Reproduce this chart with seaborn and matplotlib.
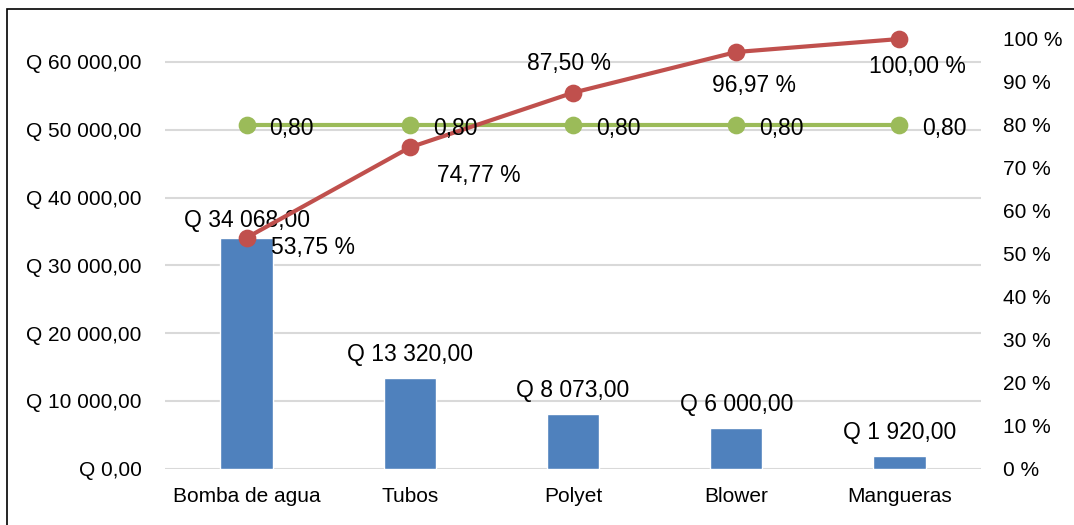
import matplotlib
matplotlib.use("Agg")
import matplotlib.pyplot as plt
from matplotlib.patches import Rectangle
import seaborn as sns
import numpy as np

# Pareto data
categories = ["Bomba de agua", "Tubos", "Polyet", "Blower", "Mangueras"]
amounts = [34068, 13320, 8073, 6000, 1920]
cumulative = [0.5375, 0.7477, 0.8750, 0.9697, 1.0]
threshold = [0.80, 0.80, 0.80, 0.80, 0.80]

BLUE = "#4F81BD"
RED = "#C0504D"
GREEN = "#9BBB59"
GRID = "#D9D9D9"


def money(v):
    s = f"{v:,.2f}".replace(",", " ").replace(".", ",")
    return f"Q {s}"


def pct(v):
    return f"{v * 100:.2f} %".replace(".", ",")


sns.set_theme(style="white")
plt.rcParams["font.family"] = ["Liberation Sans", "DejaVu Sans"]
plt.rcParams["text.color"] = "black"

W, H = 1074, 525
fig = plt.figure(figsize=(W / 100, H / 100), dpi=100)
ax = fig.add_axes([165 / W, 1 - 468.7 / H, 816 / W, (468.7 - 39) / H])

# bars on the primary axis
sns.barplot(x=categories, y=amounts, color=BLUE, saturation=1, width=0.32, ax=ax)
ax.set_ylim(0, sum(amounts))
ax.set_yticks(np.arange(0, 60001, 10000))
ax.set_yticklabels([money(t) for t in np.arange(0, 60001, 10000)])
ax.yaxis.grid(True, color=GRID, linewidth=1.5)
ax.set_axisbelow(True)
ax.tick_params(axis="y", length=0, pad=17, labelsize=15, labelcolor="black")
ax.tick_params(axis="x", length=0, pad=13, labelsize=15, labelcolor="black")
ax.set_xlabel("")
ax.set_ylabel("")
for s in ax.spines.values():
    s.set_visible(False)

bar_offsets = [6, 12, 12, 12, 12]
for i, v in enumerate(amounts):
    ax.annotate(money(v), (i, v), xytext=(0, bar_offsets[i]), textcoords="offset pixels",
                ha="center", va="bottom", fontsize=16.5)

# cumulative and threshold lines on the secondary axis
ax2 = ax.twinx()
sns.pointplot(x=categories, y=threshold, ax=ax2, color=GREEN, markers="o",
              linestyles="-", errorbar=None, markersize=10.5, linewidth=3.0)
sns.pointplot(x=categories, y=cumulative, ax=ax2, color=RED, markers="o",
              linestyles="-", errorbar=None, markersize=10.5, linewidth=3.0)
for ln in ax2.lines:
    ln.set_clip_on(False)
ax2.set_ylim(0, 1.0)
rt = np.round(np.arange(0, 1.01, 0.1), 2)
ax2.set_yticks(rt)
ax2.set_yticklabels([f"{int(round(t * 100))} %" for t in rt])
ax2.tick_params(axis="y", length=0, pad=16, labelsize=15, labelcolor="black")
ax2.set_ylabel("")
ax2.set_xlabel("")
ax2.set_xlim(-0.5, len(categories) - 0.5)
for s in ax2.spines.values():
    s.set_visible(False)

for i, v in enumerate(threshold):
    ax2.annotate(f"{v:.2f}".replace(".", ","), (i, v), xytext=(23, -4),
                 textcoords="offset pixels", ha="left", va="center", fontsize=16.5)

# label placement for the cumulative points (pixels)
cum_offsets = [(24, -10, "left"), (69, -28, "center"), (-4, 29, "center"),
               (18, -33, "center"), (18, -27, "center")]
for i, v in enumerate(cumulative):
    dx, dy, ha = cum_offsets[i]
    ax2.annotate(pct(v), (i, v), xytext=(dx, dy), textcoords="offset pixels",
                 ha=ha, va="center", fontsize=16.5)

# chart frame (cut off at right and bottom like the source)
fig.patches.append(Rectangle((7 / W, -0.5), 2.0, 0.5 + 1 - 8.5 / H,
                             transform=fig.transFigure, fill=False,
                             edgecolor="black", linewidth=1.2))

fig.savefig("out.png", dpi=100)
